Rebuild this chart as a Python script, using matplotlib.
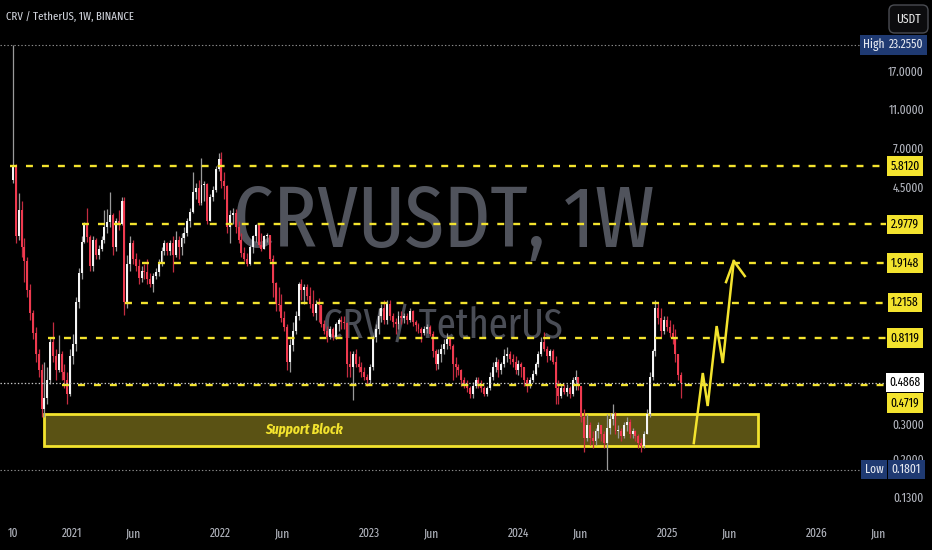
import numpy as np
import pandas as pd
import matplotlib
matplotlib.use("Agg")
import matplotlib.pyplot as plt
import matplotlib.dates as mdates
from matplotlib.patches import FancyBboxPatch, Rectangle
from matplotlib.transforms import blended_transform_factory
from matplotlib.ticker import NullLocator

plt.rcParams['lines.scale_dashes'] = False
NARROW = ['Fira Sans Extra Condensed', 'Barlow Condensed', 'Liberation Sans', 'DejaVu Sans']

# ---------------- data ----------------
first_week = '2020-08-10'
first_open = 4.95
week_close = [5.81, 2.60, 3.50, 2.30, 1.95, 1.40, 1.08, 0.86, 0.68, 0.56,
              0.36, 0.41, 0.50, 0.78, 0.66, 0.56, 0.68, 0.55, 0.50, 0.43,
              0.66, 0.76, 1.22, 1.70, 2.45, 2.96, 2.58, 1.85, 2.50, 2.10,
              2.25, 2.50, 2.90, 3.05, 3.30, 2.30, 3.10, 3.00, 3.90, 1.22,
              1.90, 2.40, 2.00, 1.85, 1.62, 1.75, 1.72, 1.60, 1.50, 1.65,
              1.72, 1.90, 2.20, 2.40, 2.20, 2.40, 2.10, 2.50, 2.30, 2.55,
              2.70, 3.10, 3.45, 4.30, 4.50, 3.80, 4.70, 4.75, 3.10, 4.10,
              4.40, 5.60, 6.30, 4.90, 4.60, 2.90, 3.30, 3.40, 2.90, 2.50,
              2.15, 2.00, 1.90, 2.30, 2.60, 2.95, 2.35, 2.25, 2.60, 2.65,
              2.00, 1.52, 1.20, 1.18, 1.02, 0.92, 0.62, 0.75, 0.88, 1.05,
              1.50, 1.40, 1.45, 1.32, 1.20, 1.08, 1.20, 1.18, 0.95, 0.88,
              0.82, 0.90, 0.82, 0.95, 1.00, 0.98, 0.96, 0.60, 0.58, 0.68,
              0.60, 0.58, 0.55, 0.52, 0.50, 0.58, 0.82, 0.90, 1.05, 1.15,
              1.00, 1.20, 1.05, 0.98, 0.95, 1.05, 1.02, 1.05, 1.00, 1.10,
              0.98, 0.94, 0.90, 0.86, 0.90, 0.92, 0.85, 0.70, 0.60, 0.68,
              0.72, 0.76, 0.80, 0.74, 0.60, 0.58, 0.56, 0.50, 0.48, 0.46,
              0.43, 0.47, 0.50, 0.48, 0.46, 0.43, 0.46, 0.52, 0.58, 0.62,
              0.56, 0.60, 0.66, 0.68, 0.64, 0.62, 0.56, 0.60, 0.58, 0.50,
              0.47, 0.50, 0.54, 0.60, 0.68, 0.78, 0.72, 0.66, 0.70, 0.62,
              0.46, 0.42, 0.46, 0.44, 0.46, 0.43, 0.50, 0.52, 0.47, 0.33,
              0.26, 0.30, 0.26, 0.25, 0.28, 0.30, 0.27, 0.245, 0.29, 0.32,
              0.34, 0.28, 0.28, 0.265, 0.30, 0.31, 0.27, 0.28, 0.265, 0.245,
              0.235, 0.27, 0.34, 0.52, 0.70, 1.15, 1.02, 0.88, 1.00, 0.92,
              0.86, 0.80, 0.68, 0.53, 0.4868]
week_high = [23.255, 5.95, 4.27, 3.90, 2.55, 2.05, 1.50, 1.12, 0.92, 0.72,
             0.60, 0.62, 0.58, 0.82, 0.97, 0.72, 0.84, 0.70, 0.60, 0.55,
             0.72, 0.85, 1.30, 1.80, 2.60, 3.05, 3.60, 2.65, 2.60, 2.55,
             2.35, 2.60, 3.50, 3.55, 4.30, 3.40, 3.20, 3.50, 4.10, 4.10,
             2.10, 2.60, 2.50, 2.15, 2.00, 1.85, 1.90, 2.00, 1.70, 1.70,
             1.80, 2.00, 2.30, 2.50, 2.45, 2.50, 2.60, 2.75, 2.60, 2.70,
             2.90, 3.20, 3.60, 5.45, 4.80, 4.95, 6.40, 4.90, 4.80, 4.20,
             4.60, 5.80, 6.75, 6.80, 5.40, 4.70, 3.50, 3.60, 3.55, 3.10,
             2.70, 2.30, 2.15, 2.35, 2.65, 3.00, 3.00, 2.70, 2.65, 2.70,
             2.65, 2.10, 1.55, 1.45, 1.35, 1.10, 0.95, 0.80, 0.98, 1.10,
             1.55, 1.60, 1.50, 1.50, 1.45, 1.40, 1.25, 1.28, 1.12, 1.00,
             0.93, 0.93, 0.92, 0.98, 1.02, 1.05, 1.05, 0.98, 0.70, 0.70,
             0.72, 0.66, 0.62, 0.58, 0.54, 0.60, 0.84, 0.95, 1.15, 1.20,
             1.25, 1.25, 1.25, 1.08, 1.02, 1.10, 1.10, 1.08, 1.08, 1.14,
             1.12, 1.00, 0.96, 0.92, 0.93, 0.95, 0.94, 0.88, 0.72, 0.72,
             0.76, 0.80, 0.86, 0.82, 0.76, 0.65, 0.60, 0.57, 0.52, 0.50,
             0.47, 0.49, 0.52, 0.52, 0.50, 0.47, 0.47, 0.55, 0.62, 0.65,
             0.64, 0.62, 0.72, 0.73, 0.70, 0.68, 0.66, 0.63, 0.62, 0.58,
             0.52, 0.52, 0.56, 0.62, 0.70, 0.82, 0.87, 0.74, 0.72, 0.72,
             0.66, 0.50, 0.48, 0.48, 0.48, 0.47, 0.52, 0.56, 0.52, 0.47,
             0.36, 0.34, 0.31, 0.28, 0.29, 0.31, 0.30, 0.28, 0.34, 0.345,
             0.38, 0.35, 0.30, 0.29, 0.31, 0.33, 0.32, 0.29, 0.285, 0.27,
             0.26, 0.28, 0.36, 0.55, 0.72, 1.25, 1.22, 1.15, 1.05, 1.05,
             1.00, 0.95, 0.90, 0.66, 0.55]
week_low = [4.80, 2.40, 2.50, 2.05, 1.55, 1.30, 1.00, 0.80, 0.62, 0.52,
            0.33, 0.33, 0.38, 0.48, 0.62, 0.50, 0.55, 0.50, 0.46, 0.38,
            0.42, 0.60, 0.70, 1.15, 1.60, 2.40, 2.45, 1.75, 1.75, 2.00,
            2.00, 2.20, 2.40, 2.70, 2.90, 2.10, 2.20, 2.80, 2.95, 1.06,
            1.15, 1.75, 1.90, 1.75, 1.50, 1.55, 1.60, 1.50, 1.45, 1.38,
            1.60, 1.65, 1.85, 2.10, 2.10, 2.10, 1.72, 2.05, 2.00, 2.10,
            2.40, 2.60, 2.90, 3.40, 4.00, 3.70, 3.72, 3.90, 3.00, 3.20,
            3.90, 4.30, 5.50, 4.50, 4.00, 2.70, 2.40, 3.00, 2.70, 2.40,
            2.05, 1.95, 1.85, 1.87, 2.15, 2.45, 2.30, 2.20, 2.25, 2.45,
            1.95, 1.30, 1.10, 1.10, 0.98, 0.88, 0.56, 0.55, 0.70, 0.85,
            1.00, 1.25, 1.20, 1.25, 1.15, 1.05, 1.00, 0.97, 0.92, 0.85,
            0.78, 0.80, 0.79, 0.80, 0.88, 0.90, 0.90, 0.52, 0.52, 0.40,
            0.58, 0.55, 0.52, 0.50, 0.47, 0.48, 0.56, 0.78, 0.85, 0.98,
            0.95, 0.95, 1.00, 0.92, 0.85, 0.90, 0.95, 0.96, 0.95, 0.98,
            0.93, 0.88, 0.86, 0.78, 0.84, 0.86, 0.83, 0.65, 0.56, 0.57,
            0.62, 0.68, 0.72, 0.72, 0.50, 0.52, 0.53, 0.47, 0.46, 0.44,
            0.41, 0.41, 0.46, 0.46, 0.44, 0.42, 0.42, 0.45, 0.50, 0.55,
            0.52, 0.54, 0.58, 0.62, 0.60, 0.58, 0.54, 0.53, 0.52, 0.47,
            0.44, 0.46, 0.49, 0.53, 0.58, 0.66, 0.70, 0.62, 0.63, 0.60,
            0.38, 0.38, 0.41, 0.43, 0.42, 0.41, 0.42, 0.45, 0.45, 0.31,
            0.22, 0.25, 0.24, 0.23, 0.24, 0.26, 0.25, 0.23, 0.1801, 0.27,
            0.30, 0.27, 0.26, 0.25, 0.26, 0.28, 0.26, 0.26, 0.25, 0.23,
            0.22, 0.23, 0.27, 0.33, 0.50, 0.66, 0.95, 0.82, 0.85, 0.88,
            0.82, 0.76, 0.62, 0.50, 0.41]

levels = [5.8120, 2.9779, 1.9148, 1.2158, 0.8119, 0.4719]
level_starts = ['2020-08-02', '2021-01-26', '2021-06-22', '2021-05-11', '2020-11-04', '2020-12-08']
current_price = 0.4868
high_price = 23.2550
low_price = 0.1801
axis_prices = [17.0, 11.0, 7.0, 4.5, 0.3, 0.2, 0.13]

support_start, support_end = '2020-10-24', '2025-08-10'
support_low, support_high = 0.236, 0.340
support_label_at = ('2022-07-24', 0.283)

arrow_dates = ['2025-03-06', '2025-03-28', '2025-04-09', '2025-05-01', '2025-05-16', '2025-06-12']
arrow_prices = [0.244, 0.544, 0.373, 0.931, 0.610, 1.96]
arrow_head_dates = ['2025-05-24', '2025-06-12', '2025-07-09']
arrow_head_prices = [1.54, 1.96, 1.65]

xtick_dates = ['2020-08-10', '2021-01-01', '2021-06-01', '2022-01-01', '2022-06-01', '2023-01-01',
               '2023-06-01', '2024-01-01', '2024-06-01', '2025-01-01', '2025-06-01', '2026-01-01', '2026-06-01']
xtick_labels = ['10', '2021', 'Jun', '2022', 'Jun', '2023', 'Jun', '2024', 'Jun', '2025', 'Jun', '2026', 'Jun']

# ---------------- figure ----------------
W, H = 932, 550
fig = plt.figure(figsize=(W / 100, H / 100), dpi=100, facecolor='#000000')
ax = fig.add_axes([0, 30 / H, 1, 520 / H])
ax.set_facecolor('#000000')
ax.set_yscale('log')
for s in ax.spines.values():
    s.set_visible(False)

d2n = lambda d: mdates.date2num(pd.Timestamp(d))
x_left, x_right = d2n('2020-07-09'), d2n('2026-10-11')
chart_end = d2n('2026-06-20')
hl_end = d2n('2026-04-22')

close = np.array(week_close)
high = np.array(week_high)
low = np.array(week_low)
opens = np.concatenate([[first_open], close[:-1]])
high = np.maximum(high, np.maximum(opens, close))
low = np.minimum(low, np.minimum(opens, close))
dates = pd.date_range(first_week, periods=len(close), freq='7D')
xs = mdates.date2num(dates)
up = close >= opens

UP_BODY, UP_WICK = '#f4f4f4', '#9a9a9a'
DN_BODY, DN_WICK = '#ef3a4f', '#c42c40'

ax.vlines(xs, low, high, colors=np.where(up, UP_WICK, DN_WICK), linewidth=0.9, zorder=3)
bot = np.minimum(opens, close)
top = np.maximum(opens, close)
hgt = np.maximum(top - bot, bot * 0.012)
ax.bar(xs[up], hgt[up], bottom=bot[up], width=4.8, color=UP_BODY, linewidth=0, zorder=3.2)
ax.bar(xs[~up], hgt[~up], bottom=bot[~up], width=4.8, color=DN_BODY, linewidth=0, zorder=3.2)

renderer = fig.canvas.get_renderer()

def fit_width(t, px_width):
    w = t.get_window_extent(renderer).width
    if w > 0:
        t.set_fontsize(t.get_fontsize() * px_width / w)

# watermarks (real text, scaled to the reference width)
wm1 = ax.text(444 / W, 1 - 247 / 520, 'CRVUSDT, 1W', transform=ax.transAxes, ha='center',
              va='baseline', color='#50535c', fontsize=80, family=NARROW, zorder=1)
fit_width(wm1, 422)
wm2 = ax.text(443 / W, 1 - 338 / 520, 'CRV / TetherUS', transform=ax.transAxes, ha='center',
              va='baseline', color='#4a4d56', fontsize=40, family=NARROW, zorder=1)
fit_width(wm2, 240)

# support block
YEL = '#f3e32e'
ax.add_patch(Rectangle((d2n(support_start), support_low), d2n(support_end) - d2n(support_start),
                       support_high - support_low, facecolor='#5a5214', edgecolor=YEL,
                       linewidth=2, zorder=2))
sb = ax.text(d2n(support_label_at[0]), support_label_at[1], 'Support Block', color=YEL,
             fontsize=10, fontweight='bold', fontstyle='italic', family=NARROW,
             ha='center', va='center', zorder=2.5)
fit_width(sb, 78)

# level lines
for v, st in zip(levels, level_starts):
    ax.hlines(v, d2n(st), chart_end, colors=YEL, linewidth=1.7,
              linestyles=[(0, (5, 6.5))], zorder=4)
ax.hlines(current_price, x_left, chart_end, colors='#c8c8c8', linewidth=0.9,
          linestyles=[(0, (1, 1.5))], zorder=4.1)
ax.hlines([high_price, low_price], x_left, hl_end, colors='#8a8a8a', linewidth=0.8,
          linestyles=[(0, (1, 1.5))], zorder=4.1)

# arrow drawing
ax.plot([d2n(d) for d in arrow_dates], arrow_prices, color=YEL, linewidth=1.8,
        solid_joinstyle='miter', zorder=5)
ax.plot([d2n(d) for d in arrow_head_dates], arrow_head_prices, color=YEL, linewidth=1.8,
        zorder=5)

ax.set_xlim(x_left, x_right)
ax.set_ylim(0.1012, 38.85)
ax.yaxis.set_major_locator(NullLocator())
ax.yaxis.set_minor_locator(NullLocator())
ax.set_xticks([d2n(d) for d in xtick_dates])
ax.set_xticklabels(xtick_labels, color='#b2b5be', fontsize=9, family=NARROW)
ax.tick_params(axis='x', length=0, pad=5)

# price scale labels
tr = blended_transform_factory(ax.transAxes, ax.transData)
for v in axis_prices:
    ax.text(924 / W, v, f'{v:.4f}', transform=tr, ha='right', va='center',
            color='#b2b5be', fontsize=9, family=NARROW, zorder=6, clip_on=False)

box_x = 905 / W
BOX = dict(boxstyle='square,pad=0.28', ec='none')
for v in levels[:-1]:
    ax.text(box_x, v, f'{v:.4f}', transform=tr, ha='center', va='center', color='#000000',
            fontsize=9, family=NARROW, zorder=7, clip_on=False, bbox=dict(BOX, fc=YEL))
ax.text(box_x, current_price, f'{current_price:.4f}', transform=tr, ha='center', va='center',
        color='#000000', fontsize=9, family=NARROW, zorder=7, clip_on=False,
        bbox=dict(BOX, fc='#ffffff'))
ax.annotate(f'{levels[-1]:.4f}', xy=(box_x, levels[-1]), xycoords=tr, xytext=(0, -12.7),
            textcoords='offset points', ha='center', va='center', color='#000000',
            fontsize=9, family=NARROW, zorder=7, annotation_clip=False,
            bbox=dict(BOX, fc=YEL))

NAVY = '#1f3a72'
for name, v in [('High', high_price), ('Low', low_price)]:
    ax.text(874 / W, v, name, transform=tr, ha='center', va='center', color='#e6e9f0',
            fontsize=9, family=NARROW, zorder=8, clip_on=False, bbox=dict(BOX, fc=NAVY))
    ax.text(box_x + 1.5 / W, v, f'{v:.4f}', transform=tr, ha='center', va='center',
            color='#e6e9f0', fontsize=9, family=NARROW, zorder=8, clip_on=False,
            bbox=dict(BOX, fc=NAVY))

# title and currency button
ttl = fig.text(6 / W, 1 - 17 / H, 'CRV / TetherUS, 1W, BINANCE', color='#d1d4dc', fontsize=9,
               family=NARROW, ha='left', va='center')
fit_width(ttl, 128)
btn = FancyBboxPatch((889 / W, 1 - 33 / H), 39 / W, 28 / H, transform=fig.transFigure,
                     boxstyle='round,pad=0,rounding_size=0.006', mutation_aspect=W / H,
                     facecolor='#0c0c0e', edgecolor='#4a4c52', linewidth=1)
fig.patches.append(btn)
fig.text(908.5 / W, 1 - 19 / H, 'USDT', color='#e6e6e6', fontsize=9, family=NARROW,
         ha='center', va='center')

fig.savefig('out.png', dpi=100, facecolor=fig.get_facecolor())
